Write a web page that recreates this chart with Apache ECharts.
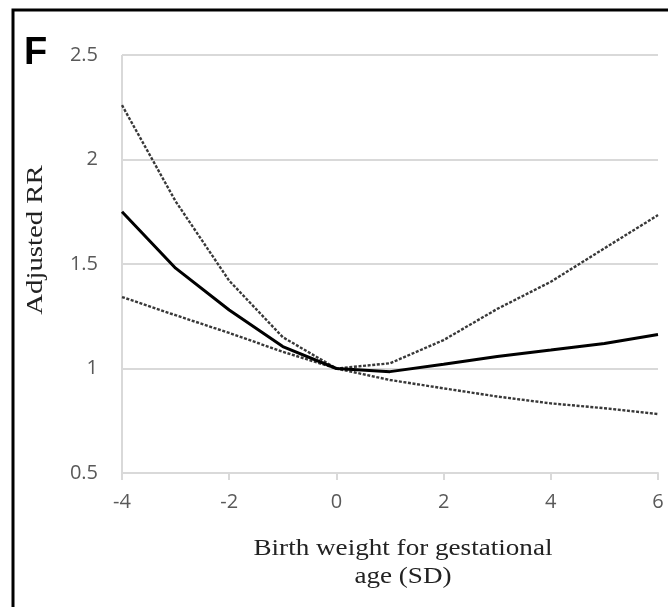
<!DOCTYPE html>
<html>
<head>
<meta charset="utf-8">
<script src="https://cdn.jsdelivr.net/npm/echarts@6/dist/echarts.min.js"></script>
<style>
  html, body { margin: 0; padding: 0; background: #fff; }
  #chart { width: 668px; height: 607px; }
</style>
</head>
<body>
<div id="chart"></div>
<script>
// Birth weight for gestational age (SD)
const sdValues = [-4, -3, -2, -1, 0, 1, 2, 3, 4, 5, 6];
// Adjusted relative risk and its confidence bounds
const adjustedRR = [1.75, 1.48, 1.28, 1.105, 1.0, 0.985, 1.02, 1.057, 1.088, 1.12, 1.163];
const upperCI = [2.26, 1.80, 1.42, 1.15, 1.0, 1.025, 1.136, 1.285, 1.415, 1.575, 1.734];
const lowerCI = [1.342, 1.255, 1.17, 1.08, 1.0, 0.945, 0.905, 0.866, 0.833, 0.81, 0.782];
const xTicks = [-4, -2, 0, 2, 4, 6];
const yTicks = [0.5, 1, 1.5, 2, 2.5];

const pairs = (ys) => sdValues.map((x, i) => [x, ys[i]]);

const chart = echarts.init(document.getElementById('chart'), null, { renderer: 'canvas' });

const tickFont = { color: '#595959', fontSize: 20, fontFamily: '"Open Sans", "Liberation Sans", sans-serif' };
const serif = '"Liberation Serif", "Times New Roman", serif';
const ciLine = { color: '#383838', width: 2.4, type: [3, 1.6] };

chart.setOption({
  animation: false,
  backgroundColor: '#ffffff',
  grid: { left: 122, right: 10, top: 55, bottom: 134, containLabel: false },
  xAxis: {
    type: 'value',
    min: -4, max: 6, interval: 2,
    axisLine: { show: true, lineStyle: { color: '#d9d9d9', width: 2 } },
    axisTick: { show: true, length: 7, lineStyle: { color: '#d9d9d9', width: 2 } },
    axisLabel: Object.assign({ margin: 19, formatter: (v) => xTicks.includes(v) ? String(v) : '' }, tickFont),
    splitLine: { show: false }
  },
  yAxis: {
    type: 'value',
    min: 0.5, max: 2.5, interval: 0.5,
    axisLine: { show: false },
    axisTick: { show: true, length: 8, lineStyle: { color: '#d9d9d9', width: 2 } },
    axisLabel: Object.assign({ margin: 24, formatter: (v) => yTicks.includes(v) ? String(v) : '' }, tickFont),
    splitLine: { show: true, lineStyle: { color: '#d9d9d9', width: 2 } }
  },
  series: [
    {
      name: 'Upper',
      type: 'line',
      data: pairs(upperCI),
      showSymbol: false,
      lineStyle: ciLine,
      z: 3
    },
    {
      name: 'Lower',
      type: 'line',
      data: pairs(lowerCI),
      showSymbol: false,
      lineStyle: ciLine,
      z: 3
    },
    {
      name: 'Adjusted RR',
      type: 'line',
      data: pairs(adjustedRR),
      showSymbol: false,
      lineStyle: { color: '#000000', width: 3 },
      z: 4
    }
  ],
  graphic: [
    // vertical axis line at x = -4
    {
      type: 'line',
      shape: { x1: 122, y1: 55, x2: 122, y2: 473 },
      style: { stroke: '#d9d9d9', lineWidth: 2 },
      z: 1
    },
    // panel frame
    {
      type: 'rect',
      shape: { x: 13, y: 10, width: 720, height: 720 },
      style: { fill: 'none', stroke: '#000', lineWidth: 3 },
      silent: true
    },
    {
      type: 'text',
      x: 24, y: 54,
      style: {
        text: 'F',
        font: 'bold 38px "Liberation Sans", Arial, sans-serif',
        fill: '#000',
        verticalAlign: 'middle'
      }
    },
    {
      type: 'text',
      x: 36, y: 240,
      rotation: Math.PI / 2,
      scaleX: 1.25,
      style: {
        text: 'Adjusted RR',
        font: '23px ' + serif,
        fill: '#222',
        align: 'center',
        verticalAlign: 'middle'
      }
    },
    {
      type: 'text',
      x: 403, y: 563,
      scaleX: 1.13,
      style: {
        text: 'Birth weight for gestational\nage (SD)',
        font: '24px ' + serif,
        fill: '#222',
        align: 'center',
        verticalAlign: 'middle',
        lineHeight: 28
      }
    }
  ]
});
</script>
</body>
</html>
